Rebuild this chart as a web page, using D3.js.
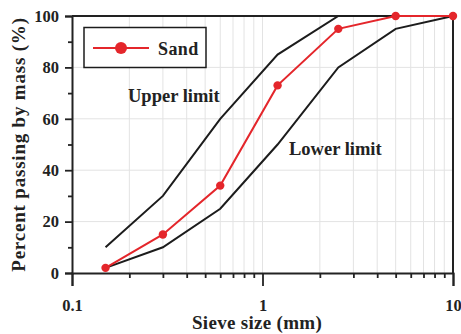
<!DOCTYPE html>
<html>
<head>
<meta charset="utf-8">
<script src="https://cdn.jsdelivr.net/npm/d3@7"></script>
<style>
  html, body { margin: 0; padding: 0; background: #fff; }
  svg { display: block; }
  text { font-family: "Liberation Serif", "Times New Roman", serif; font-weight: bold; fill: #222; }
</style>
</head>
<body>
<svg id="chart" width="461" height="334"></svg>
<script>
// Sieve sizes (mm) and percent passing
const sieveSizes = [0.15, 0.3, 0.6, 1.2, 2.5, 5, 10];
const sandPassing = [2, 15, 34, 73, 95, 100, 100];
const upperLimit = [10, 30, 60, 85, 100, 100, 100];
const lowerLimit = [2, 10, 25, 50, 80, 95, 100];

const xMajorTicks = [0.1, 1, 10];
const xTickLabels = ["0.1", "1", "10"];
const xMinorTicks = [0.2, 0.3, 0.4, 0.5, 0.6, 0.7, 0.8, 0.9, 2, 3, 4, 5, 6, 7, 8, 9];
const yMajorTicks = [0, 20, 40, 60, 80, 100];
const yMinorTicks = [10, 30, 50, 70, 90];

const margin = { top: 16, right: 8, bottom: 61, left: 72 };
const W = 461, H = 334;
const svg = d3.select("#chart");

const x = d3.scaleLog().domain([0.1, 10]).range([margin.left, W - margin.right]);
const y = d3.scaleLinear().domain([0, 100]).range([H - margin.bottom, margin.top]);

const gridColor = "#e3e3e3";
const axisColor = "#222";

// grid
const grid = svg.append("g");
grid.selectAll("line.vx")
  .data(xMinorTicks.concat([1]))
  .join("line")
  .attr("x1", d => x(d)).attr("x2", d => x(d))
  .attr("y1", y(0)).attr("y2", y(100))
  .attr("stroke", gridColor).attr("stroke-width", 1);
grid.selectAll("line.hy")
  .data([20, 40, 60, 80])
  .join("line")
  .attr("x1", x(0.1)).attr("x2", x(10))
  .attr("y1", d => y(d)).attr("y2", d => y(d))
  .attr("stroke", gridColor).attr("stroke-width", 1);

// frame on top and right
svg.append("line")
  .attr("x1", x(0.1)).attr("x2", x(10)).attr("y1", y(100)).attr("y2", y(100))
  .attr("stroke", axisColor).attr("stroke-width", 2);
svg.append("line")
  .attr("x1", x(10)).attr("x2", x(10)).attr("y1", y(100)).attr("y2", y(0))
  .attr("stroke", axisColor).attr("stroke-width", 2);

// x axis
svg.append("g").attr("transform", `translate(0,${y(0)})`)
  .call(d3.axisBottom(x).tickValues(xMajorTicks)
    .tickFormat((d, i) => xTickLabels[i]).tickSize(13).tickPadding(13));
svg.append("g").attr("transform", `translate(0,${y(0)})`)
  .call(d3.axisBottom(x).tickValues(xMinorTicks).tickFormat("").tickSize(5))
  .call(g => g.select(".domain").remove());

// y axis
svg.append("g").attr("transform", `translate(${x(0.1)},0)`)
  .call(d3.axisLeft(y).tickValues(yMajorTicks).tickSize(7).tickPadding(6));
svg.append("g").attr("transform", `translate(${x(0.1)},0)`)
  .call(d3.axisLeft(y).tickValues(yMinorTicks).tickFormat("").tickSize(4))
  .call(g => g.select(".domain").remove());

svg.selectAll(".domain").attr("stroke", axisColor).attr("stroke-width", 2);
svg.selectAll(".tick line").attr("stroke", axisColor).attr("stroke-width", 1.8);
svg.selectAll(".tick text")
  .attr("font-family", "Liberation Serif, serif")
  .attr("font-size", 16.5).attr("font-weight", "bold").attr("fill", "#222");

// series
const pts = vals => sieveSizes.map((s, i) => [s, vals[i]]);
const line = d3.line().x(d => x(d[0])).y(d => y(d[1]));

svg.append("path").datum(pts(upperLimit)).attr("d", line)
  .attr("fill", "none").attr("stroke", "#1c1c1c").attr("stroke-width", 2);
svg.append("path").datum(pts(lowerLimit)).attr("d", line)
  .attr("fill", "none").attr("stroke", "#1c1c1c").attr("stroke-width", 2);

const red = "#e4262b";
svg.append("path").datum(pts(sandPassing)).attr("d", line)
  .attr("fill", "none").attr("stroke", red).attr("stroke-width", 2);
svg.selectAll("circle.sand").data(pts(sandPassing)).join("circle")
  .attr("cx", d => x(d[0])).attr("cy", d => y(d[1])).attr("r", 4.2)
  .attr("fill", red);

// annotations
svg.append("text").attr("x", 128).attr("y", 102)
  .attr("font-size", 18.5).text("Upper limit");
svg.append("text").attr("x", 289).attr("y", 155)
  .attr("font-size", 18.5).text("Lower limit");

// legend
const lg = svg.append("g");
lg.append("rect").attr("x", 84).attr("y", 27.5).attr("width", 122).attr("height", 40)
  .attr("fill", "#fff").attr("stroke", "#1c1c1c").attr("stroke-width", 1.5);
lg.append("line").attr("x1", 93).attr("x2", 149).attr("y1", 48).attr("y2", 48)
  .attr("stroke", red).attr("stroke-width", 2);
lg.append("circle").attr("cx", 121).attr("cy", 48).attr("r", 6).attr("fill", red);
lg.append("text").attr("x", 158).attr("y", 54.5).attr("font-size", 18)
  .attr("letter-spacing", 0.4).text("Sand");

// axis titles
svg.append("text")
  .attr("x", 257).attr("y", 328.5)
  .attr("text-anchor", "middle").attr("font-size", 19).attr("letter-spacing", 0.3)
  .text("Sieve size (mm)");
svg.append("text")
  .attr("transform", `translate(25,${(y(0) + y(100)) / 2}) rotate(-90)`)
  .attr("text-anchor", "middle").attr("font-size", 19).attr("letter-spacing", 0.8)
  .text("Percent passing by mass (%)");
</script>
</body>
</html>
